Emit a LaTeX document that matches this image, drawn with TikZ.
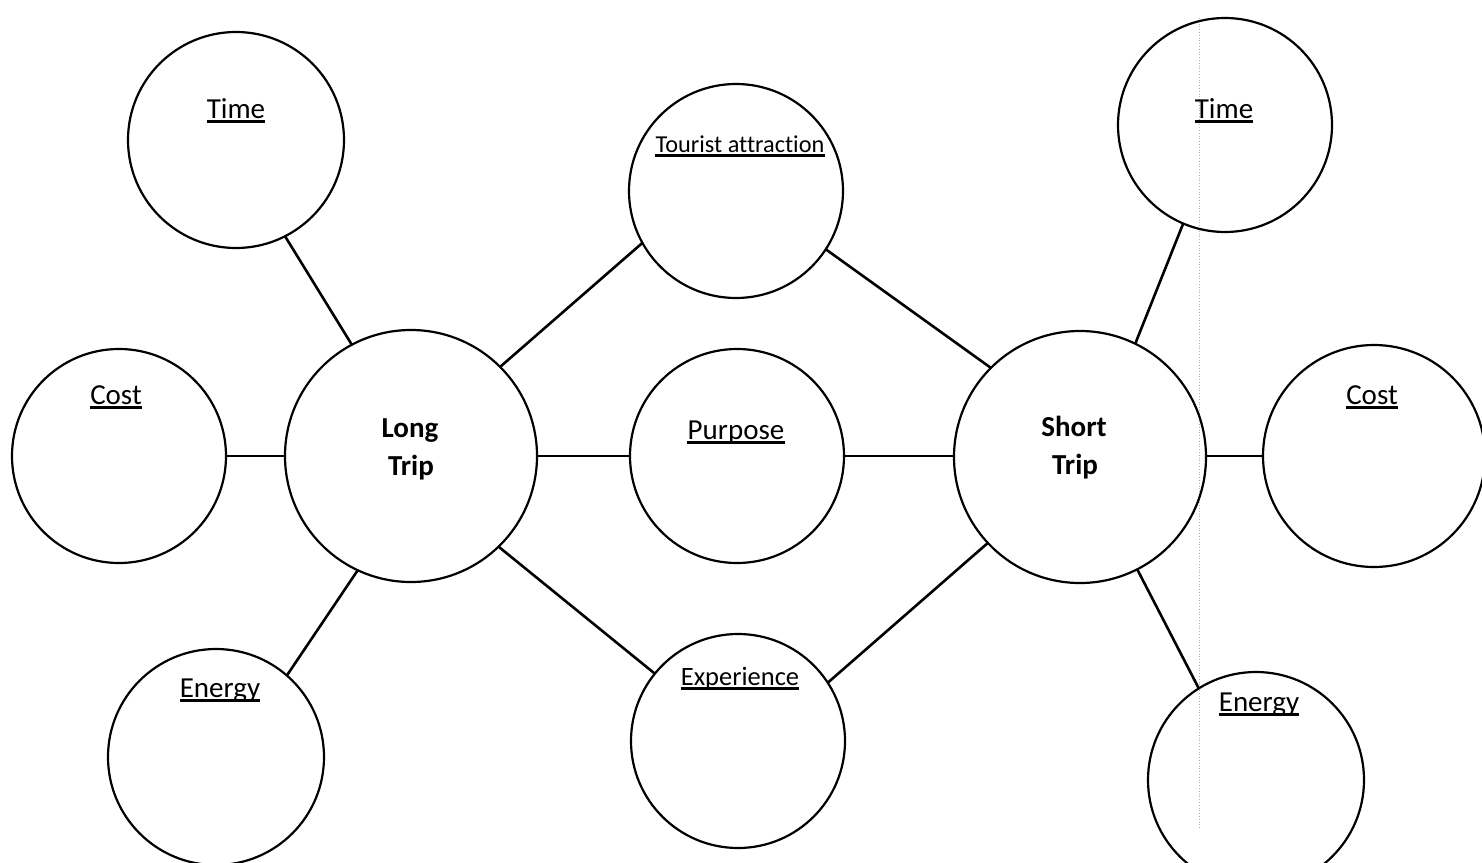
\documentclass[tikz,border=0pt]{standalone}
\usepackage{fontspec}
\setmainfont{Carlito}[Ligatures=NoCommon]
\begin{document}
\begin{tikzpicture}[x=1pt,y=-1pt,
  bub/.style={circle,draw,line width=2.2pt,inner sep=0pt,outer sep=0pt,minimum size=#1},
  link/.style={line width=2.6pt},
  lbl/.style={inner sep=0pt,anchor=base,font=\fontsize{29}{35}\selectfont},
  lblsmall/.style={lbl,font=\fontsize{24.3}{29}\selectfont},
  lblmid/.style={lbl,font=\fontsize{26.5}{32}\selectfont},
  bold/.style={inner sep=0pt,anchor=base,font=\fontsize{29}{35}\selectfont\bfseries},
  ul/.style={line width=3pt},
  guide/.style={black!30,dotted,line width=0.8pt}]
\useasboundingbox (0,0) rectangle (1482,862);
\clip (0,0) rectangle (1482,862);
\fill[white] (0,0) rectangle (1482,862);

% page guide
\coordinate (g1) at (1199,18);
\coordinate (g2) at (1199,828);
\draw[guide] (g1) -- (g2);

% circles
\node[bub=216pt] (tl) at (236,140) {};
\node[bub=214pt] (cl) at (119,456) {};
\node[bub=216pt] (el) at (216,757) {};
\node[bub=252pt] (lt) at (411,456) {};
\node[bub=214pt] (ta) at (736,191) {};
\node[bub=214pt] (pu) at (737,456) {};
\node[bub=214pt] (ex) at (738,741) {};
\node[bub=252pt] (st) at (1080,457) {};
\node[bub=214pt] (tr) at (1225,125) {};
\node[bub=222pt] (cr) at (1374,456) {};
\node[bub=216pt] (er) at (1256,780) {};

% connectors
\draw[link] (tl.-63) -- (lt.118.8);
\draw[link] (cl.east) -- (cl.east -| lt.west);
\draw[link] (el.49.5) -- (lt.245.6);
\draw[link] (lt.45) -- (ta.209.2);
\draw[link] (lt.east) -- (lt.east -| pu.west);
\draw[link] (lt.-46.6) -- (ex.141.8);
\draw[link] (ta.-33.2) -- (st.135.3);
\draw[link] (pu.east) -- (pu.east -| st.west);
\draw[link] (ex.33.2) -- (st.223.7);
\draw[link] (st.64) -- (tr.247.9);
\draw[link] (cr.west -| st.east) -- (cr.west);
\draw[link] (st.-63) -- (er.122.5);

% labels
\node[lbl] (tlT) at (236,118) {Time};
\node[lbl] (clT) at (116,404) {Cost};
\node[lbl] (elT) at (220,697) {Energy};
\node[lblsmall] (taT) at (740,152) {Tourist attraction};
\node[lbl] (puT) at (736,439) {Purpose};
\node[lblmid] (exT) at (740,685) {Experience};
\node[lbl] (trT) at (1224,118) {Time};
\node[lbl] (crT) at (1372,404) {Cost};
\node[lbl] (erT) at (1259,711) {Energy};

\node[bold] (lt1) at (410,437) {Long};
\node[bold] (lt2) at (411,475) {Trip};
\node[bold] (st1) at (1074,436) {Short};
\node[bold] (st2) at (1075,474) {Trip};

% underlines
\foreach \n in {tlT,clT,elT,taT,puT,exT,trT,crT,erT}
  \draw[ul] ([yshift=-3pt]\n.base west) -- ([yshift=-3pt]\n.base east);
\end{tikzpicture}
\end{document}
